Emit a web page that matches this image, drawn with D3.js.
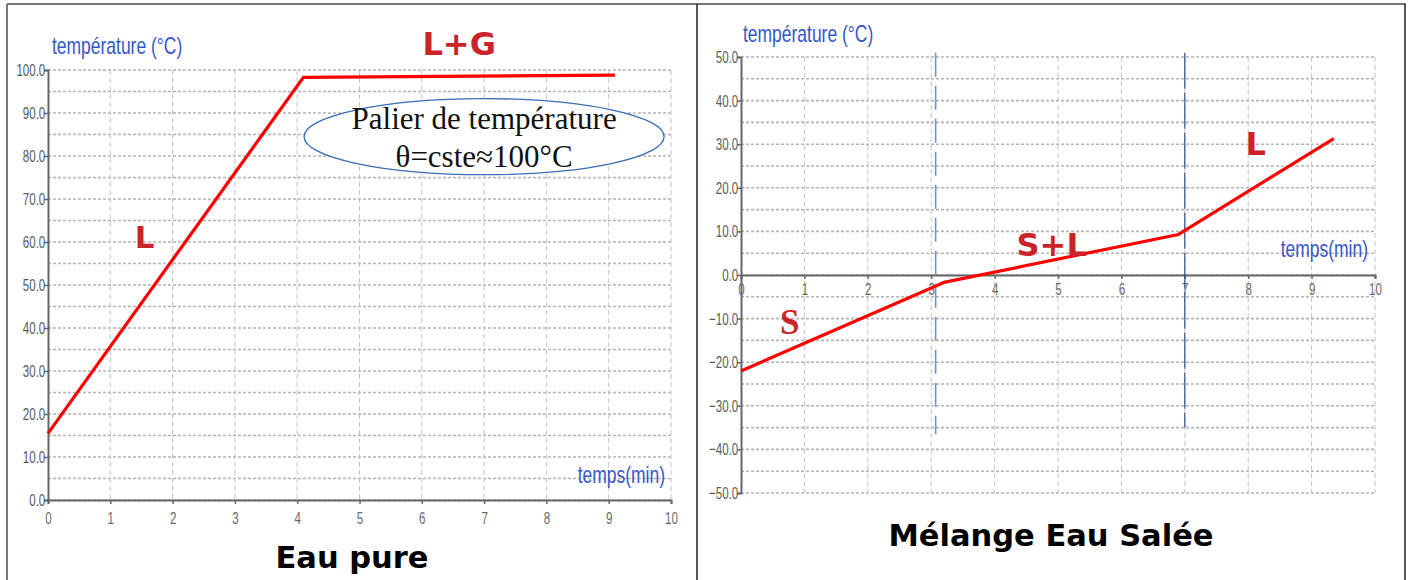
<!DOCTYPE html>
<html><head><meta charset="utf-8">
<script src="https://cdn.jsdelivr.net/npm/d3@7"></script>
<style>
body{margin:0;background:#fff;}
svg{display:block;}
</style></head><body>
<svg id="c" width="1412" height="580"></svg>
<script>
// ---- data ----
const xTickValues = [0,1,2,3,4,5,6,7,8,9,10];
const pureYTicks = [0,10,20,30,40,50,60,70,80,90,100];
const saltYTicks = [-50,-40,-30,-20,-10,0,10,20,30,40,50];
const pureTime = [0, 4.1, 9.1];
const pureTemp = [15.5, 98.3, 98.8];
const saltTime = [0, 3.2, 6.9, 9.35];
const saltTemp = [-22, -1.7, 9.3, 31.3];
const saltMarkers = [3.07, 7.0];

const svg = d3.select("#c");
const SANS = "'Liberation Sans',Arial,sans-serif";
const BOLD = "'DejaVu Sans',Verdana,sans-serif";
const SERIF = "'Liberation Serif','Times New Roman',serif";
const RED = "#cc2229";
const LINE = "#ff0000";
const BLUE = "#3657c8";

// outer frame
svg.append("line").attr("x1",7).attr("x2",1406).attr("y1",4).attr("y2",4).attr("stroke","#777").attr("stroke-width",2);
svg.append("line").attr("x1",7).attr("x2",7).attr("y1",4).attr("y2",580).attr("stroke","#777").attr("stroke-width",2);
svg.append("line").attr("x1",697).attr("x2",697).attr("y1",4).attr("y2",580).attr("stroke","#222").attr("stroke-width",1.5);
svg.append("line").attr("x1",1405).attr("x2",1405).attr("y1",4).attr("y2",580).attr("stroke","#222").attr("stroke-width",1.5);

function narrowText(g, x, y, txt, size, color, anchor) {
  return g.append("text").attr("transform",`translate(${x},${y}) scale(0.76,1)`)
    .attr("text-anchor",anchor||"start").attr("font-family",SANS).attr("font-size",size)
    .attr("fill",color).text(txt);
}

function grid(g, x, y, yMin, yMax) {
  for (let v = yMin; v <= yMax; v += 5) {
    g.append("line").attr("x1",x(0)).attr("x2",x(10)).attr("y1",y(v)).attr("y2",y(v))
      .attr("stroke","#b4b4b4").attr("stroke-width",1.6).attr("stroke-dasharray","3,2");
  }
  xTickValues.forEach(t => {
    if (t===0) return;
    g.append("line").attr("x1",x(t)).attr("x2",x(t)).attr("y1",y(yMax)).attr("y2",y(yMin))
      .attr("stroke","#c4c4c4").attr("stroke-width",1).attr("stroke-dasharray","5,3");
  });
}

function yAxis(g, x, y, ticks) {
  const ax = d3.axisLeft(y).tickValues(ticks).tickFormat(d3.format(".1f")).tickSize(4).tickPadding(0);
  const a = g.append("g").attr("transform",`translate(${x(0)},0)`).call(ax);
  a.select(".domain").attr("stroke","#666").attr("stroke-width",2);
  a.selectAll(".tick line").attr("stroke","#666").attr("stroke-width",1.5);
  a.selectAll("text").attr("font-family",SANS).attr("font-size",17).attr("fill","#5a5a5a")
    .attr("transform","scale(0.68,1)");
}
function xAxis(g, x, y0, pad) {
  const ax = d3.axisBottom(x).tickValues(xTickValues).tickFormat(d3.format("d")).tickSize(4).tickPadding(pad);
  const a = g.append("g").attr("transform",`translate(0,${y0})`).call(ax);
  a.select(".domain").attr("stroke","#666").attr("stroke-width",2);
  a.selectAll(".tick line").attr("stroke","#666").attr("stroke-width",1.5);
  a.selectAll("text").attr("font-family",SANS).attr("font-size",17).attr("fill","#6a6a6a")
    .attr("transform","scale(0.68,1)");
}

// ---------- Left chart: Eau pure ----------
{
  const g = svg.append("g");
  const x = d3.scaleLinear().domain([0,10]).range([48,671]);
  const y = d3.scaleLinear().domain([0,100]).range([500,70]);
  grid(g, x, y, 0, 100);
  yAxis(g, x, y, pureYTicks);
  xAxis(g, x, y(0), 8);

  const pts = pureTime.map((t,i)=>[t,pureTemp[i]]);
  g.append("path").datum(pts)
    .attr("d", d3.line().x(d=>x(d[0])).y(d=>y(d[1])))
    .attr("fill","none").attr("stroke",LINE).attr("stroke-width",3.2).attr("stroke-linejoin","miter");

  // ellipse annotation
  const cx = x(7.0), cy = y(84.5);
  g.append("ellipse").attr("cx",cx).attr("cy",cy).attr("rx",180).attr("ry",38)
    .attr("fill","#fff").attr("stroke","#3a6db5").attr("stroke-width",1.3);
  g.append("text").attr("x",cx).attr("y",cy-8).attr("text-anchor","middle")
    .attr("font-family",SERIF).attr("font-size",31).attr("fill","#111")
    .text("Palier de température");
  g.append("text").attr("x",cx).attr("y",cy+30).attr("text-anchor","middle")
    .attr("font-family",SERIF).attr("font-size",31).attr("fill","#111")
    .text("θ=cste≈100°C");

  g.append("text").attr("x",x(6.6)).attr("y",y(103.5)).attr("text-anchor","middle")
    .attr("font-family",BOLD).attr("font-weight","bold").attr("font-size",32).attr("fill",RED).text("L+G");
  g.append("text").attr("x",x(1.55)).attr("y",y(58.7)).attr("text-anchor","middle")
    .attr("font-family",BOLD).attr("font-weight","bold").attr("font-size",31).attr("fill",RED).text("L");

  narrowText(g, 52, 54, "température (°C)", 23, BLUE);
  narrowText(g, 665, 483, "temps(min)", 23, BLUE, "end");

  g.append("text").attr("x",352).attr("y",568).attr("text-anchor","middle")
    .attr("font-family",BOLD).attr("font-weight","bold").attr("font-size",30.5).attr("fill","#000").text("Eau pure");
}

// ---------- Right chart: Mélange Eau Salée ----------
{
  const g = svg.append("g");
  const x = d3.scaleLinear().domain([0,10]).range([741,1375]);
  const y = d3.scaleLinear().domain([-50,50]).range([493,57]);
  grid(g, x, y, -50, 50);
  yAxis(g, x, y, saltYTicks);
  xAxis(g, x, y(0), 4);

  // vertical dashed markers
  g.append("line").attr("x1",x(saltMarkers[0])).attr("x2",x(saltMarkers[0])).attr("y1",y(51)).attr("y2",y(-36.5))
    .attr("stroke","#6f93c4").attr("stroke-width",1.6).attr("stroke-dasharray","24,9");
  g.append("line").attr("x1",x(saltMarkers[1])).attr("x2",x(saltMarkers[1])).attr("y1",y(51)).attr("y2",y(-35))
    .attr("stroke","#2e4f8c").attr("stroke-width",1.2).attr("stroke-dasharray","36,4");

  const pts = saltTime.map((t,i)=>[t,saltTemp[i]]);
  g.append("path").datum(pts)
    .attr("d", d3.line().x(d=>x(d[0])).y(d=>y(d[1])))
    .attr("fill","none").attr("stroke",LINE).attr("stroke-width",3.2).attr("stroke-linejoin","round");

  g.append("text").attr("x",x(4.9)).attr("y",y(4.3)).attr("text-anchor","middle")
    .attr("font-family",BOLD).attr("font-weight","bold").attr("font-size",32).attr("fill",RED).text("S+L");
  g.append("text").attr("x",x(8.12)).attr("y",y(27.5)).attr("text-anchor","middle")
    .attr("font-family",BOLD).attr("font-weight","bold").attr("font-size",32).attr("fill",RED).text("L");
  g.append("text").attr("x",x(0.77)).attr("y",y(-13.5)).attr("text-anchor","middle")
    .attr("font-family",SERIF).attr("font-weight","bold").attr("font-size",35).attr("fill",RED).text("S");

  narrowText(g, 743, 42, "température (°C)", 23, BLUE);
  narrowText(g, 1368, 257, "temps(min)", 23, BLUE, "end");

  g.append("text").attr("x",1051).attr("y",546).attr("text-anchor","middle")
    .attr("font-family",BOLD).attr("font-weight","bold").attr("font-size",30.5).attr("fill","#000").text("Mélange Eau Salée");
}
</script>
</body></html>
